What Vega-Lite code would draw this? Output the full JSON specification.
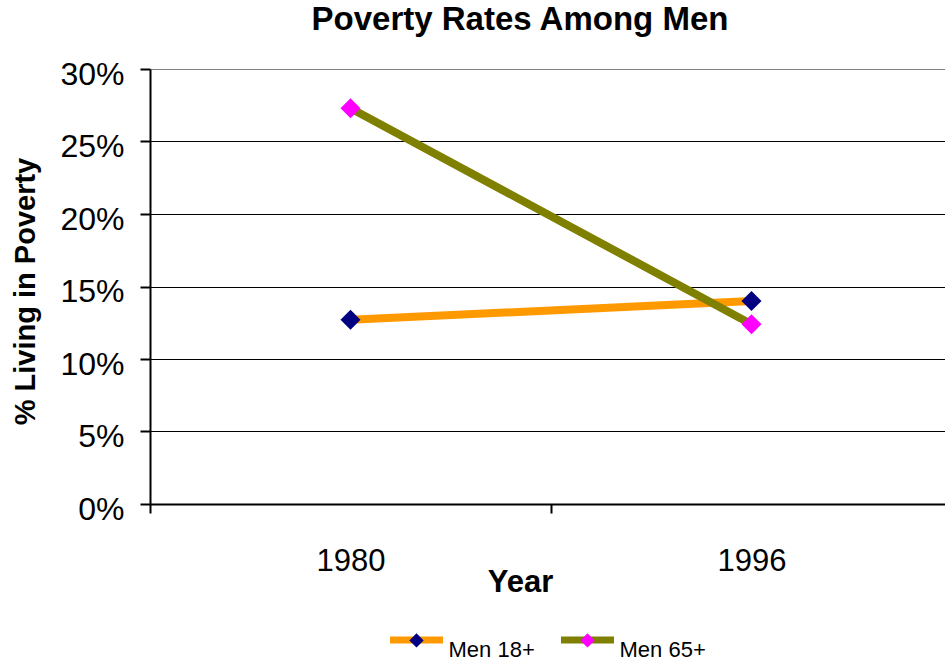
{
  "$schema": "https://vega.github.io/schema/vega-lite/v6.json",
  "width": 802,
  "height": 435,
  "autosize": {"type": "none"},
  "padding": {"left": 150, "top": 69, "right": 0, "bottom": 160},
  "background": "white",
  "config": {"view": {"stroke": null}, "font": "Liberation Sans"},
  "title": {
    "text": "Poverty Rates Among Men",
    "font": "Liberation Sans",
    "fontSize": 33,
    "fontWeight": "bold",
    "color": "black",
    "anchor": "middle",
    "dx": -31,
    "baseline": "alphabetic",
    "offset": -5
  },
  "data": {
    "values": [
      {"year": "1980", "series": "Men 18+", "marker": "Men 18+", "rate": 0.127},
      {"year": "1996", "series": "Men 18+", "marker": "Men 18+", "rate": 0.140},
      {"year": "1980", "series": "Men 65+", "marker": "Men 65+", "rate": 0.273},
      {"year": "1996", "series": "Men 65+", "marker": "Men 65+", "rate": 0.124}
    ]
  },
  "encoding": {
    "x": {
      "field": "year",
      "type": "ordinal",
      "bandPosition": 0.5,
      "scale": {"type": "band", "paddingInner": 0, "paddingOuter": 0},
      "axis": {
        "title": "Year",
        "grid": false,
        "labelAngle": 0,
        "domainColor": "black",
        "domainWidth": 2,
        "tickColor": "black",
        "tickWidth": 2,
        "tickSize": 9,
        "tickBand": "extent",
        "labelFont": "Liberation Sans",
        "labelFontSize": 31,
        "labelColor": "black",
        "labelPadding": 33,
        "titleFont": "Liberation Sans",
        "titleFontSize": 31,
        "titleFontWeight": "bold",
        "titleColor": "black",
        "titleX": 370,
        "titleY": 87,
        "titleBaseline": "alphabetic",
        "titleAlign": "center"
      }
    },
    "y": {
      "field": "rate",
      "type": "quantitative",
      "scale": {"domain": [0, 0.3], "nice": false},
      "axis": {
        "title": "% Living in Poverty",
        "values": [0, 0.05, 0.1, 0.15, 0.2, 0.25, 0.3],
        "format": ".0%",
        "grid": true,
        "gridColor": {"condition": {"test": "datum.value >= 0.3", "value": "#808080"}, "value": "black"},
        "gridWidth": 1,
        "gridOpacity": 1,
        "domainColor": "black",
        "domainWidth": 2,
        "tickColor": "black",
        "tickWidth": 2,
        "tickSize": 10,
        "labelFont": "Liberation Sans",
        "labelFontSize": 32,
        "labelColor": "black",
        "labelPadding": 16,
        "labelOffset": 5,
        "titleFont": "Liberation Sans",
        "titleFontSize": 29,
        "titleFontWeight": "bold",
        "titleColor": "black",
        "titleAngle": -90,
        "titleX": -116,
        "titleY": 222,
        "titleBaseline": "alphabetic",
        "titleAlign": "center"
      }
    }
  },
  "layer": [
    {
      "mark": {"type": "line", "strokeWidth": 8},
      "encoding": {
        "color": {
          "field": "series",
          "type": "nominal",
          "scale": {"range": ["#FF9900", "#808000"]},
          "legend": {
            "orient": "none",
            "legendX": 236.5,
            "legendY": 541,
            "direction": "horizontal",
            "title": null,
            "padding": 0,
            "symbolType": "stroke",
            "symbolSize": 2809,
            "symbolStrokeWidth": 7,
            "symbolOffset": 0,
            "labelOffset": 2,
            "labelFont": "Liberation Sans",
            "labelFontSize": 22,
            "labelColor": "black",
            "labelBaseline": "top",
            "columnPadding": 11,
            "zindex": 1
          }
        }
      }
    },
    {
      "mark": {"type": "point", "shape": "diamond", "filled": true, "size": 400, "opacity": 1, "strokeWidth": 0},
      "encoding": {
        "fill": {
          "field": "marker",
          "type": "nominal",
          "scale": {"range": ["#000080", "#FF00FF"]},
          "legend": {
            "orient": "none",
            "legendX": 236.5,
            "legendY": 541,
            "direction": "horizontal",
            "title": null,
            "padding": 0,
            "symbolType": "M -1 0 L 1 0 M -0.27 0 L 0 -0.27 L 0.27 0 L 0 0.27 Z",
            "symbolSize": 2809,
            "symbolStrokeWidth": 7,
            "symbolStrokeColor": "transparent",
            "symbolOpacity": 1,
            "symbolOffset": 0,
            "labelOffset": 2,
            "labelFont": "Liberation Sans",
            "labelFontSize": 22,
            "labelColor": "transparent",
            "labelBaseline": "top",
            "columnPadding": 11,
            "zindex": 2
          }
        }
      }
    }
  ]
}
